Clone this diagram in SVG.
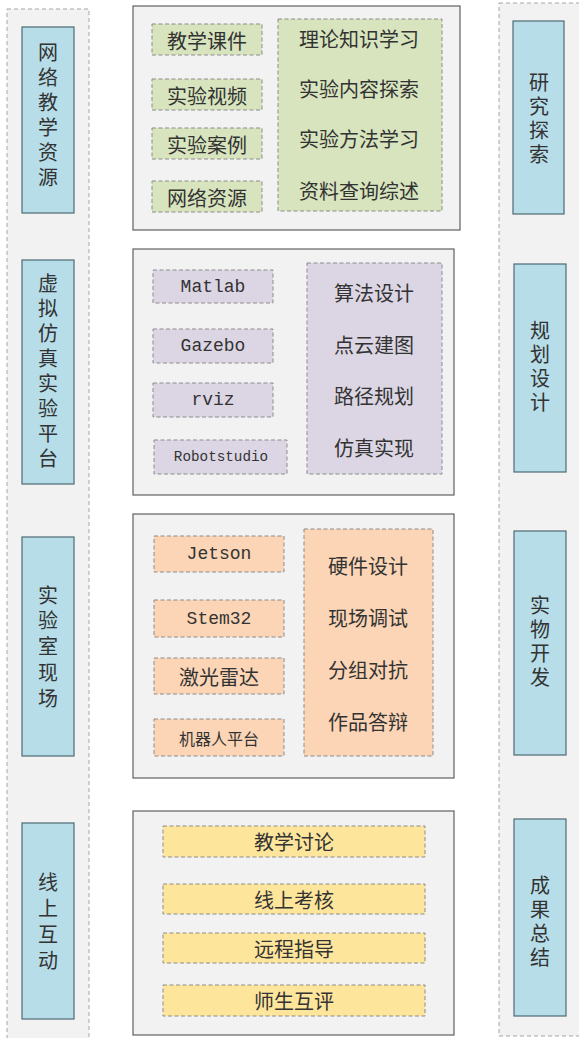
<svg xmlns="http://www.w3.org/2000/svg" width="579" height="1038" viewBox="0 0 579 1038">
<style>
.col{fill:#f2f2f2;stroke:#a6a6a6;stroke-width:1;stroke-dasharray:4 3}
.panel{fill:#f2f2f2;stroke:#606060;stroke-width:1.2}
.blue{fill:#b6dde8;stroke:#4d6b75;stroke-width:1.2}
.g{fill:#d7e4bd;stroke:#8c8c8c;stroke-width:1;stroke-dasharray:4 2.5}
.p{fill:#dcd6e4;stroke:#8c8c8c;stroke-width:1;stroke-dasharray:4 2.5}
.o{fill:#fbd5b5;stroke:#8c8c8c;stroke-width:1;stroke-dasharray:4 2.5}
.y{fill:#fee59c;stroke:#8c8c8c;stroke-width:1;stroke-dasharray:4 2.5}
text{fill:#333}
.cjk,.mono{text-anchor:middle;dominant-baseline:central}
.cjk{font-family:"Noto Sans CJK SC","Noto Sans CJK JP",sans-serif;font-size:20px}
.v{font-family:"Noto Sans CJK SC",sans-serif;font-size:20px;writing-mode:vertical-rl;text-anchor:start;dominant-baseline:central;letter-spacing:5px}
.v2{letter-spacing:4px}
.mono{font-family:"Liberation Mono","DejaVu Sans Mono",monospace;font-size:18px}
</style>
<g id="left-column">
<rect class="col" x="7" y="9" width="82" height="1035"/>
</g>
<g id="right-column">
<rect class="col" x="499" y="3" width="84" height="1033"/>
</g>
<g id="left-1">
<rect class="blue" x="22" y="27" width="52" height="186"/>
<text class="v" x="48" y="42">网络教学资源</text>
</g>
<g id="left-2">
<rect class="blue" x="22" y="260" width="52" height="224"/>
<text class="v" x="48" y="273">虚拟仿真实验平台</text>
</g>
<g id="left-3">
<rect class="blue" x="22" y="537" width="52" height="219"/>
<text class="v" x="48" y="585" style="letter-spacing:5.8px">实验室现场</text>
</g>
<g id="left-4">
<rect class="blue" x="22" y="823" width="52" height="196"/>
<text class="v" x="48" y="872" style="letter-spacing:6px">线上互动</text>
</g>
<g id="right-1">
<rect class="blue" x="513" y="21" width="51" height="193"/>
<text class="v v2" x="539" y="72">研究探索</text>
</g>
<g id="right-2">
<rect class="blue" x="514" y="264" width="52" height="208"/>
<text class="v v2" x="540" y="320">规划设计</text>
</g>
<g id="right-3">
<rect class="blue" x="514" y="531" width="52" height="224"/>
<text class="v v2" x="540" y="595">实物开发</text>
</g>
<g id="right-4">
<rect class="blue" x="514" y="819" width="52" height="197"/>
<text class="v v2" x="540" y="875">成果总结</text>
</g>
<g id="panel-1">
<rect class="panel" x="133" y="6" width="327" height="224"/>
<rect class="g" x="152" y="24" width="110" height="31"/><text class="cjk" x="207" y="40">教学课件</text>
<rect class="g" x="152" y="79" width="110" height="31"/><text class="cjk" x="207" y="95">实验视频</text>
<rect class="g" x="152" y="128" width="110" height="31"/><text class="cjk" x="207" y="144">实验案例</text>
<rect class="g" x="152" y="181" width="110" height="31"/><text class="cjk" x="207" y="197">网络资源</text>
<rect class="g" x="278" y="19" width="164" height="192"/>
<text class="cjk" x="359" y="38">理论知识学习</text>
<text class="cjk" x="359" y="88">实验内容探索</text>
<text class="cjk" x="359" y="138">实验方法学习</text>
<text class="cjk" x="359" y="190">资料查询综述</text>
</g>
<g id="panel-2">
<rect class="panel" x="133" y="249" width="321" height="246"/>
<rect class="p" x="153" y="270" width="120" height="33"/><text class="mono" x="213" y="287">Matlab</text>
<rect class="p" x="153" y="329" width="120" height="34"/><text class="mono" x="213" y="346">Gazebo</text>
<rect class="p" x="153" y="383" width="120" height="34"/><text class="mono" x="213" y="400">rviz</text>
<rect class="p" x="154" y="440" width="133" height="34"/><text class="mono" x="221" y="457" style="font-size:14.3px">Robotstudio</text>
<rect class="p" x="307" y="263" width="135" height="211"/>
<text class="cjk" x="374" y="292">算法设计</text>
<text class="cjk" x="374" y="344">点云建图</text>
<text class="cjk" x="374" y="395">路径规划</text>
<text class="cjk" x="374" y="447">仿真实现</text>
</g>
<g id="panel-3">
<rect class="panel" x="133" y="514" width="321" height="264"/>
<rect class="o" x="154" y="536" width="130" height="36"/><text class="mono" x="219" y="554">Jetson</text>
<rect class="o" x="154" y="600" width="130" height="37"/><text class="mono" x="219" y="619">Stem32</text>
<rect class="o" x="154" y="658" width="130" height="36"/><text class="cjk" x="219" y="676">激光雷达</text>
<rect class="o" x="154" y="719" width="130" height="37"/><text class="cjk" x="219" y="738" style="font-size:16px">机器人平台</text>
<rect class="o" x="304" y="529" width="129" height="227"/>
<text class="cjk" x="368" y="565">硬件设计</text>
<text class="cjk" x="368" y="617">现场调试</text>
<text class="cjk" x="368" y="669">分组对抗</text>
<text class="cjk" x="368" y="721">作品答辩</text>
</g>
<g id="panel-4">
<rect class="panel" x="133" y="811" width="321" height="224"/>
<rect class="y" x="163" y="826" width="262" height="31"/><text class="cjk" x="294" y="841">教学讨论</text>
<rect class="y" x="163" y="884" width="262" height="30"/><text class="cjk" x="294" y="899">线上考核</text>
<rect class="y" x="163" y="933" width="262" height="30"/><text class="cjk" x="294" y="948">远程指导</text>
<rect class="y" x="163" y="985" width="262" height="31"/><text class="cjk" x="294" y="1000">师生互评</text>
</g>
<g id="connectors"></g>
</svg>
